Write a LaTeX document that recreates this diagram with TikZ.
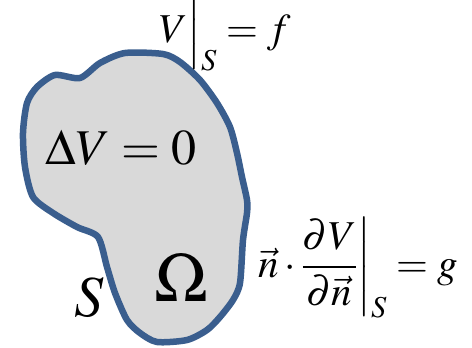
\documentclass[tikz,border=0pt]{standalone}
\usepackage{amsmath}
\usepackage{mathptmx}
\usepackage{tikz}
\definecolor{rimblue}{HTML}{3A5E8E}
\definecolor{areagray}{HTML}{D9D9D9}

\begin{document}
\begin{tikzpicture}[
  x=1pt, y=-1pt,
  region/.style={draw=rimblue, fill=areagray, line width=6.5pt, line join=round},
  eqn/.style={inner sep=0pt, font=\fontsize{41}{48}\selectfont},
  inner/.style={inner sep=0pt, font=\fontsize{50}{58}\selectfont},
  big/.style={inner sep=0pt, font=\fontsize{70}{78}\selectfont}
]
\useasboundingbox (0,0) rectangle (472,348);

%% Domain
\draw[region] plot[smooth cycle, tension=0.45] coordinates {
  (125,53) (163,54) (180,62) (200,80) (217,103) (230,127) (237,153)
  (242,177) (247,200) (247,213) (243,240) (240,283) (233,300) (220,317)
  (207,330) (187,340) (157,342) (140,333) (127,320) (115,293) (107,267)
  (98,237) (77,227) (53,213) (33,197) (25,167) (23,133) (27,103)
  (37,87) (55,75) (80,78) (100,63)};

%% Labels
\node[eqn] (dirichlet) at (225,33) {$V\Big|_S = f$};
\node[inner] (laplace) at (121,148) {$\Delta V = 0$};
\node[big] (omega) at (181,278) {$\Omega$};
\node[inner, font=\fontsize{58}{64}\selectfont] (bound) at (89,298) {$S$};
\node[eqn] (neumann) at (358,268)
  {$\vec{n}\cdot\dfrac{\partial V}{\partial\vec{n}}\bigg|_S = g$};
\end{tikzpicture}
\end{document}
